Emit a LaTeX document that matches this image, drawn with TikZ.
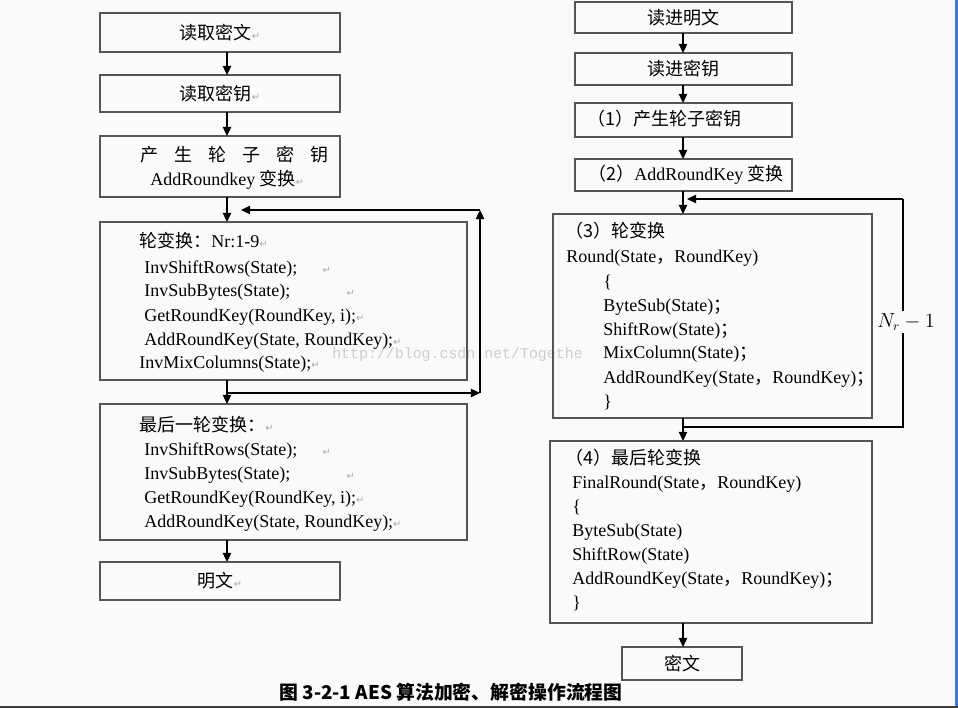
\documentclass[tikz,border=0pt]{standalone}
\usepackage{fontspec}
\usepackage{xcolor}
\usetikzlibrary{arrows.meta}
\setmainfont{Liberation Serif}
\newfontfamily\cjk{Noto Sans CJK SC}
\newfontfamily\symfont{DejaVu Sans}
\newfontfamily\wmfont{Liberation Mono}
\definecolor{bggray}{RGB}{250,250,250}
\definecolor{boxgray}{RGB}{85,85,85}
\definecolor{wmgray}{RGB}{205,205,205}
\definecolor{edgeblue}{RGB}{70,120,215}
\newcommand{\pmark}{{\symfont\fontsize{7}{7}\selectfont\color{gray!70}↵}}

\begin{document}
\begin{tikzpicture}[x=0.025cm, y=-0.025cm,
    every node/.style={font=\fontsize{12.8}{15}\selectfont},
    box/.style={draw=boxgray, line width=0.9pt, inner sep=0pt, outer sep=0pt},
    txt/.style={anchor=base west, inner sep=0pt},
    arr/.style={line width=0.9pt, -{Triangle[length=6.5pt,width=6pt]}}]

    % Page
    \fill[bggray] (0,0) rectangle (958,708);
    \useasboundingbox (0,0) rectangle (958,708);
    \fill[edgeblue] (955,0) rectangle (958,706);
    \fill[black!75] (0,706) rectangle (958,708);
    \node[txt, font=\wmfont\fontsize{10.6}{12}\selectfont, text=wmgray] (wm) at (332,358) {http://blog.csdn.net/Togethe};

    % Decryption
    \node[box, minimum width=6cm, minimum height=0.975cm] (rdmw) at (220,32.5) {\cjk 读取密文\pmark};
    \node[box, minimum width=6cm, minimum height=0.925cm] (rdmy) at (220,93.5) {\cjk 读取密钥\pmark};
    \node[box, minimum width=6cm, minimum height=1.525cm] (lkey) at (220,166.5) {};
    \node[txt] (lkey1) at (140,162) {\cjk 产\hspace{11.4pt}生\hspace{11.4pt}轮\hspace{11.4pt}子\hspace{11.4pt}密\hspace{11.4pt}钥};
    \node[txt] (lkey2) at (150,186) {AddRoundkey {\cjk 变换}\pmark};

    % Rounds 1-9
    \node[box, minimum width=9.175cm, minimum height=3.95cm] (lrnd) at (283.5,301) {};
    \node[txt] (lrnd1) at (139,248) {{\cjk 轮变换：}Nr:1-9\pmark};
    \node[txt] (lrnd2) at (144,273) {InvShiftRows(State);\hspace{18pt}\pmark};
    \node[txt] (lrnd3) at (144,296) {InvSubBytes(State);\hspace{40pt}\pmark};
    \node[txt] (lrnd4) at (144,321) {GetRoundKey(RoundKey, i);\pmark};
    \node[txt] (lrnd5) at (144,345) {AddRoundKey(State, RoundKey);\pmark};
    \node[txt] (lrnd6) at (139,368) {InvMixColumns(State);\pmark};

    % Last round
    \node[box, minimum width=9.175cm, minimum height=3.4cm] (lfin) at (283.5,472) {};
    \node[txt] (lfin1) at (139,431) {\cjk 最后一轮变换：\pmark};
    \node[txt] (lfin2) at (144,455) {InvShiftRows(State);\hspace{18pt}\pmark};
    \node[txt] (lfin3) at (144,479) {InvSubBytes(State);\hspace{40pt}\pmark};
    \node[txt] (lfin4) at (144,503) {GetRoundKey(RoundKey, i);\pmark};
    \node[txt] (lfin5) at (144,527) {AddRoundKey(State, RoundKey);\pmark};
    \node[box, minimum width=6cm, minimum height=0.95cm] (lmw) at (220,581) {\cjk 明文\pmark};

    % Connections left
    \coordinate (la) at (227,0);
    \draw[arr] (rdmw.south -| la) -- (rdmy.north -| la);
    \draw[arr] (rdmy.south -| la) -- (lkey.north -| la);
    \draw[arr] (lkey.south -| la) -- (lrnd.north -| la);
    \draw[arr] (lrnd.south -| la) -- (lfin.north -| la);
    \draw[arr] (lfin.south -| la) -- (lmw.north -| la);
    \coordinate (lb) at (227,393);
    \coordinate (lbr) at (480,393);
    \coordinate (ltr) at (480,210);
    \coordinate (lt) at (241,210);
    \draw[arr] (lb) -- (lbr); % loop back
    \draw[arr] (lbr) -- (ltr);
    \draw[arr] (ltr) -- (lt);

    % Encryption
    \node[box, minimum width=5.425cm, minimum height=0.775cm] (rdmwen) at (683.5,17.5) {\cjk 读进明文};
    \node[box, minimum width=5.425cm, minimum height=0.8cm] (rdmiyao) at (683.5,69) {\cjk 读进密钥};
    \node[box, minimum width=5.425cm, minimum height=0.85cm] (rkey) at (683.5,120) {};
    \node[txt] (rkey1) at (587,126) {\cjk （1）产生轮子密钥};
    \node[box, minimum width=5.425cm, minimum height=0.8cm] (radd) at (683.5,175) {};
    \node[txt] (radd1) at (588,181) {{\cjk （2）}AddRoundKey {\cjk 变换}};

    % Round
    \node[box, minimum width=7.975cm, minimum height=5.1cm] (rrnd) at (712.5,316) {};
    \node[txt] (rrnd1) at (565,238) {\cjk （3）轮变换};
    \node[txt] (rrnd2) at (566,263) {Round(State{\cjk ，}RoundKey)};
    \node[txt] (rrnd3) at (603,287) {\{};
    \node[txt] (rrnd4) at (603,311) {ByteSub(State){\cjk ；}};
    \node[txt] (rrnd5) at (603,335) {ShiftRow(State){\cjk ；}};
    \node[txt] (rrnd6) at (603,358) {MixColumn(State){\cjk ；}};
    \node[txt] (rrnd7) at (603,383) {AddRoundKey(State{\cjk ，}RoundKey){\cjk ；}};
    \node[txt] (rrnd8) at (603,407) {\}};

    % Final round
    \node[box, minimum width=8.05cm, minimum height=4.55cm] (rfin) at (711,532) {};
    \node[txt] (rfin1) at (565,464) {\cjk （4）最后轮变换};
    \node[txt] (rfin2) at (572,488) {FinalRound(State{\cjk ，}RoundKey)};
    \node[txt] (rfin3) at (572,512) {\{};
    \node[txt] (rfin4) at (572,536) {ByteSub(State)};
    \node[txt] (rfin5) at (572,560) {ShiftRow(State)};
    \node[txt] (rfin6) at (572,584) {AddRoundKey(State{\cjk ，}RoundKey){\cjk ；}};
    \node[txt] (rfin7) at (572,608) {\}};
    \node[box, minimum width=3cm, minimum height=0.825cm] (rmw) at (682,663.5) {\cjk 密文};

    % Connections right
    \coordinate (ra) at (683,0);
    \draw[arr] (rdmwen.south -| ra) -- (rdmiyao.north -| ra);
    \draw[arr] (rdmiyao.south -| ra) -- (rkey.north -| ra);
    \draw[arr] (rkey.south -| ra) -- (radd.north -| ra);
    \draw[arr] (radd.south -| ra) -- (rrnd.north -| ra);
    \draw[arr] (rrnd.south -| ra) -- (rfin.north -| ra);
    \draw[arr] (rfin.south -| ra) -- (rmw.north -| ra);
    \coordinate (rb) at (683,427);
    \coordinate (rbr) at (903,427);
    \coordinate (rtr) at (903,199);
    \coordinate (rt) at (687,199);
    \draw[line width=0.9pt] (rb) -- (rbr) -- (rtr); % Nr-1 loop
    \draw[arr] (rtr) -- (rt);
    \node[fill=bggray, inner sep=2pt, font=\fontsize{13.5}{15}\selectfont] (nr) at (906,322) {$N_r-1$};

    % Caption
    \node (cap) at (451,692) {\cjk\bfseries\fontsize{13.4}{16}\selectfont 图 3-2-1 AES 算法加密、解密操作流程图};

\end{tikzpicture}
\end{document}
